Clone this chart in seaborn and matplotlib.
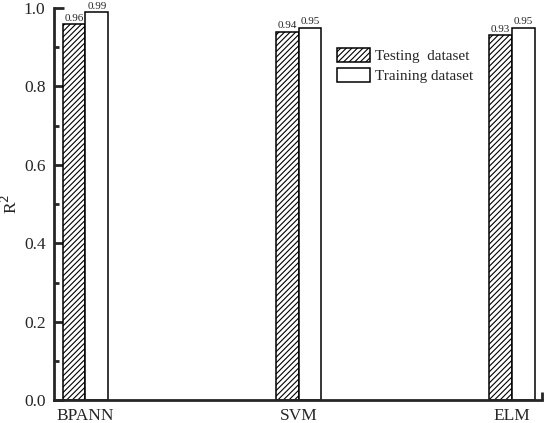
import numpy as np
import pandas as pd
import matplotlib
matplotlib.use("Agg")
import matplotlib.pyplot as plt
import seaborn as sns
from matplotlib.ticker import MultipleLocator

models = ["BPANN", "SVM", "ELM"]
testing = [0.96, 0.94, 0.93]
training = [0.99, 0.95, 0.95]
series = ["Testing  dataset", "Training dataset"]

df = pd.DataFrame({
    "model": models * 2,
    "r2": testing + training,
    "set": [series[0]] * 3 + [series[1]] * 3,
})

sns.set_style("ticks")
plt.rcParams["font.family"] = ["Liberation Serif", "DejaVu Serif"]
plt.rcParams["hatch.linewidth"] = 0.8

fig = plt.figure(figsize=(5.5, 4.23), dpi=100)
ax = fig.add_axes([0.098, 0.054, 0.887, 0.927])

sns.barplot(data=df, x="model", y="r2", hue="set", hue_order=series,
            palette=["white", "white"], edgecolor="black", linewidth=1.1,
            width=0.212, ax=ax, legend=True)

n = len(models)
for i, p in enumerate(ax.patches[:2 * n]):
    if i < n:
        p.set_hatch("//////")
    ax.text(p.get_x() + p.get_width() / 2, p.get_height() + 0.003,
            f"{p.get_height():.2f}", ha="center", va="bottom", fontsize=8)

xmax = 2.14
ax.set_xlim(-0.148, xmax)
ax.set_ylim(0, 1.0)
ax.yaxis.set_major_locator(MultipleLocator(0.2))
ax.yaxis.set_minor_locator(MultipleLocator(0.1))
ax.set_yticklabels([f"{v:.1f}" for v in ax.get_yticks()])
ax.tick_params(axis="y", which="major", length=7, width=2, labelsize=12.5,
               direction="in", pad=6)
ax.tick_params(axis="y", which="minor", length=3.5, width=2, direction="in")
ax.tick_params(axis="x", which="major", length=0, labelsize=12.5, pad=6)
ax.set_xticks([xmax], minor=True)
ax.tick_params(axis="x", which="minor", length=6, width=2, direction="in")
ax.set_xlabel("")
ax.set_ylabel("R$^2$", fontsize=12.5, labelpad=2)
for s in ["top", "right"]:
    ax.spines[s].set_visible(False)
for s in ["left", "bottom"]:
    ax.spines[s].set_linewidth(2)

handles, labels = ax.get_legend_handles_labels()
handles[0].set_hatch("//////")
ax.legend(handles, labels, loc="upper left", bbox_to_anchor=(0.58, 0.897),
          frameon=False, fontsize=11, handlelength=2.15, handleheight=1.0,
          handletextpad=0.35, labelspacing=0.3, borderpad=0, borderaxespad=0)

fig.savefig("out.png", dpi=100)
